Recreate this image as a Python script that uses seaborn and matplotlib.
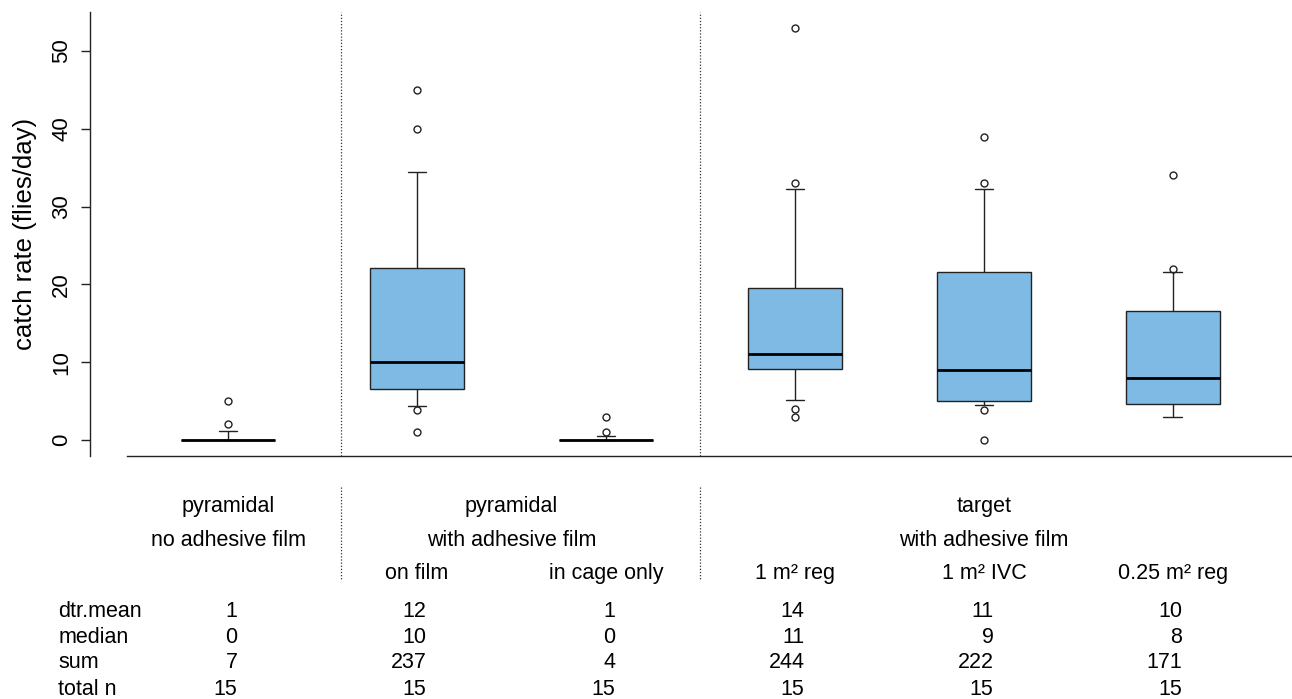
import numpy as np
import pandas as pd
import matplotlib
matplotlib.use("Agg")
import matplotlib.pyplot as plt
import matplotlib.transforms as mtransforms
import seaborn as sns

# catch rates (flies/day), 15 trap-days per group
no_film = [0, 0, 0, 0, 0, 0, 0, 0, 0, 0, 0, 0, 1.2, 2, 5]
on_film = [1, 3.9, 4.4, 6.5, 6.5, 8, 9, 10, 12, 15, 22, 22.1, 34.4, 40, 45]
cage_only = [0, 0, 0, 0, 0, 0, 0, 0, 0, 0, 0, 0, 0.55, 1, 3]
target_1m_reg = [3, 4, 5.2, 9, 9.2, 10, 10.5, 11, 13, 16, 19.5, 19.5, 32.2, 33, 53]
target_1m_ivc = [0, 3.9, 4.5, 5, 5.1, 6, 8, 9, 12, 16, 21.5, 21.6, 32.2, 33, 39]
target_025m_reg = [3, 3, 3, 4.6, 4.6, 5.5, 7, 8, 10, 13, 16.5, 16.6, 21.6, 22, 34]

groups = ["no adhesive film", "on film", "in cage only",
          "1 m² reg", "1 m² IVC", "0.25 m² reg"]
sub_labels = ["", "on film", "in cage only", "1 m² reg", "1 m² IVC", "0.25 m² reg"]

# summary table under the plot
row_names = ["dtr.mean", "median", "sum", "total n"]
dtr_mean = [1, 12, 1, 14, 11, 10]
medians = [0, 10, 0, 11, 9, 8]
sums = [7, 237, 4, 244, 222, 171]
total_n = [15, 15, 15, 15, 15, 15]

df = pd.DataFrame({
    "group": np.repeat(groups, 15),
    "rate": np.concatenate([no_film, on_film, cage_only,
                            target_1m_reg, target_1m_ivc, target_025m_reg]),
})

sns.set_style("ticks")
plt.rcParams["font.family"] = ["Liberation Sans", "DejaVu Sans"]
plt.rcParams["text.color"] = "black"
plt.rcParams["axes.labelcolor"] = "black"
plt.rcParams["ytick.labelcolor"] = "black"

W, H = 1292, 699
fig = plt.figure(figsize=(W / 100, H / 100), dpi=100)
ax = fig.add_axes([89.5 / W, (H - 456) / H, 1 - 89.5 / W, 444 / H])

sns.boxplot(data=df, x="group", y="rate", order=groups, ax=ax,
            width=0.5, whis=(10, 90), color="#7FBAE5", saturation=1,
            linecolor="#222222", linewidth=1.0, fliersize=5,
            flierprops=dict(marker="o", markerfacecolor="none", markeredgewidth=1.0),
            medianprops=dict(color="black", linewidth=2.0),
            capwidths=0.1)

ax.set_xlim(-0.733, 5.63)
ax.set_ylim(-2.06, 55.0)
ax.set_xticks([])
ax.set_xlabel("")
ax.set_yticks([0, 10, 20, 30, 40, 50])
ax.tick_params(axis="y", length=6.5, width=1, labelsize=16, pad=6,
               color="#222222", labelcolor="black")
plt.setp(ax.get_yticklabels(), rotation=90, va="center")
ax.set_ylabel("catch rate (flies/day)", fontsize=18.5, va="center", color="black")
ax.yaxis.set_label_coords((25 - 89.5) / (W - 89.5), 0.5)
for s in ["top", "right"]:
    ax.spines[s].set_visible(False)
ax.spines["bottom"].set_bounds(-0.534, 5.63)
for s in ["left", "bottom"]:
    ax.spines[s].set_linewidth(1)
    ax.spines[s].set_color("#222222")

# separators between trap types
trans = mtransforms.blended_transform_factory(ax.transData, fig.transFigure)
for xs in [0.6, 2.5]:
    ax.axvline(xs, color="#333333", lw=0.9, ls=(0, (1, 1.5)))
    ax.plot([xs, xs], [1 - 487 / H, 1 - 580 / H], transform=trans, clip_on=False,
            color="#333333", lw=0.9, ls=(0, (1, 1.5)))


def fy(py):
    return 1 - py / H


fs = 15.5
# header lines
ax.text(0, fy(511.7), "pyramidal", transform=trans, ha="center", fontsize=fs)
ax.text(0, fy(546), "no adhesive film", transform=trans, ha="center", fontsize=fs)
ax.text(1.5, fy(511.7), "pyramidal", transform=trans, ha="center", fontsize=fs)
ax.text(1.5, fy(546), "with adhesive film", transform=trans, ha="center", fontsize=fs)
ax.text(4, fy(511.7), "target", transform=trans, ha="center", fontsize=fs)
ax.text(4, fy(546), "with adhesive film", transform=trans, ha="center", fontsize=fs)
for i, lab in enumerate(sub_labels):
    if lab:
        ax.text(i, fy(579), lab, transform=trans, ha="center", fontsize=fs)

# summary rows
row_base = [616.7, 642.7, 668.3, 695.0]
for name, vals, py in zip(row_names, [dtr_mean, medians, sums, total_n], row_base):
    ax.text(-0.899, fy(py), name, transform=trans, ha="left", fontsize=fs)
    for i, v in enumerate(vals):
        ax.text(i + 0.05, fy(py), str(v), transform=trans, ha="right", fontsize=fs)

fig.savefig("out.png", dpi=100)
